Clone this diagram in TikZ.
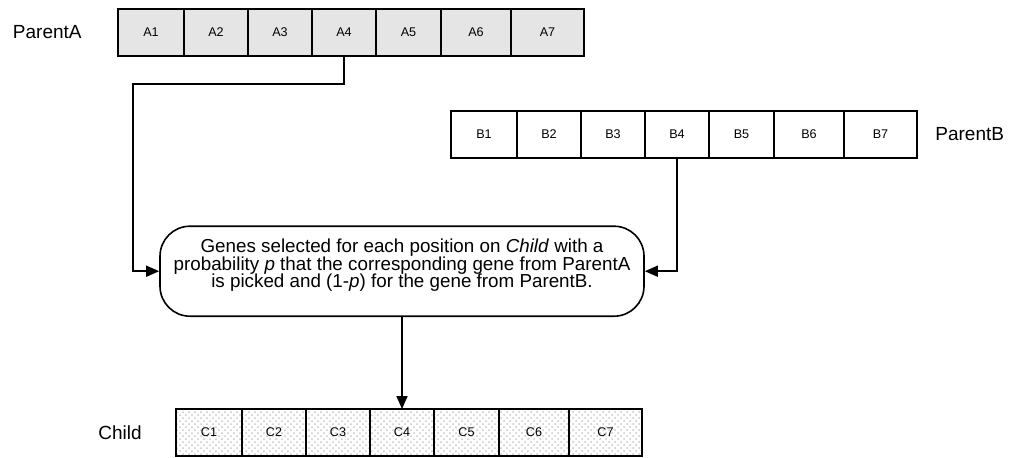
\documentclass[tikz,border=0pt]{standalone}
\usepackage{fontspec}
\setmainfont{Liberation Sans}
\usepackage{tikz}
\usetikzlibrary{arrows.meta,positioning,patterns}
\tikzstyle{cell} = [rectangle, minimum height=23.5pt, minimum width=33pt, inner sep=0pt, outer sep=0pt, line width=0.9pt, draw=black, text centered, font=\fontsize{6.3}{7}\selectfont]
\tikzstyle{cellA} = [cell, fill=black!10]
\tikzstyle{cellB} = [cell, fill=white]
\tikzstyle{cellC} = [cell, pattern=crosshatch dots, pattern color=black!22]
\tikzstyle{tag} = [inner sep=0pt, font=\fontsize{9.5}{11}\selectfont]
\tikzstyle{ruleNode} = [rectangle, rounded corners=15pt, draw=black, thick, minimum width=242pt, minimum height=45pt, align=center, text depth=8pt, font=\fontsize{9.4}{8.8}\selectfont]
\tikzstyle{arrow} = [thick,->,>={Triangle[length=6.5pt,width=5.5pt]},draw=black]

\begin{document}
\begin{tikzpicture}[x=0.5pt,y=-0.5pt]
    \useasboundingbox (0,0) rectangle (1010,457);
    % the three chromosomes
    \foreach \r/\x/\y in {A/118/9, B/451/111, C/176/409}{
        \node (\r1) [cell\r, minimum width=33pt, anchor=north west] at (\x,\y) {\r1};
        \foreach \i/\w [remember=\i as \j (initially 1)] in {2/32,3/32,4/32,5/32.5,6/35,7/36.5}
            \node (\r\i) [cell\r, minimum width=\w pt, right=0pt of \r\j] {\r\i};
    }
    \node (parA) [tag, left=18pt of A1] {ParentA};
    \node (parB) [tag, right=9pt of B7] {ParentB};
    \node (child) [tag, left=17pt of C1] {Child};
    
    \node (rule) [ruleNode, above=46pt of C4] {Genes selected for each position on \textit{Child} with a\\ probability \textit{p} that the corresponding gene from ParentA\\ is picked and (1-\textit{p}) for the gene from ParentB.};
    
    \coordinate (aBend) at (133,84);
    \draw [arrow] (A4.south) |- (aBend) |- (rule.west);
    \draw [arrow] (B4.south) |- (rule.east);
    \draw [arrow] (rule) -- (C4);
    
\end{tikzpicture}
\end{document}
